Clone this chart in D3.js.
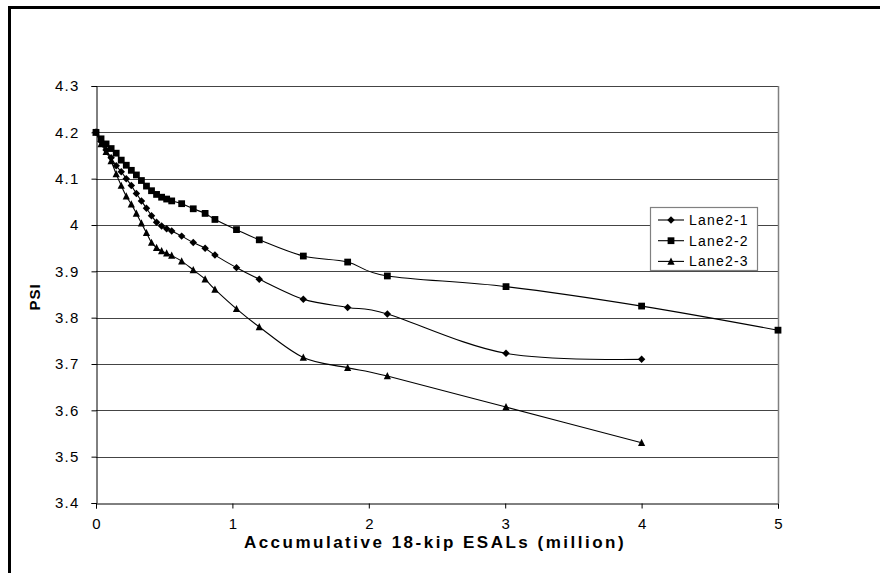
<!DOCTYPE html>
<html>
<head>
<meta charset="utf-8">
<script src="https://cdn.jsdelivr.net/npm/d3@7"></script>
<style>
  html, body { margin: 0; padding: 0; background: #fff; }
  svg { display: block; }
  text { font-family: "Liberation Sans", Arial, sans-serif; fill: #000; }
</style>
</head>
<body>
<svg id="chart" width="880" height="573"></svg>
<script>
// Cumulative traffic (million 18-kip ESALs) at each survey
const esals = [0, 0.037, 0.074, 0.111, 0.148, 0.185, 0.222, 0.259, 0.296, 0.333,
  0.37, 0.407, 0.444, 0.481, 0.518, 0.555, 0.628, 0.713, 0.8, 0.872,
  1.03, 1.197, 1.52, 1.845, 2.136, 3.006, 4.0, 5.0];

// PSI per lane
const lane2_1 = [4.2, 4.18, 4.162, 4.145, 4.128, 4.115, 4.1, 4.085, 4.068, 4.052,
  4.036, 4.02, 4.006, 3.998, 3.992, 3.987, 3.976, 3.962, 3.95, 3.935,
  3.908, 3.883, 3.84, 3.822, 3.808, 3.723, 3.71];
const lane2_2 = [4.2, 4.186, 4.175, 4.165, 4.155, 4.14, 4.129, 4.118, 4.108, 4.096,
  4.084, 4.074, 4.066, 4.06, 4.056, 4.052, 4.046, 4.035, 4.025, 4.012,
  3.99, 3.968, 3.933, 3.92, 3.89, 3.867, 3.825, 3.773];
const lane2_3 = [4.2, 4.175, 4.158, 4.138, 4.11, 4.085, 4.062, 4.045, 4.025, 4.004,
  3.983, 3.962, 3.951, 3.944, 3.939, 3.934, 3.922, 3.903, 3.883, 3.861,
  3.819, 3.78, 3.714, 3.692, 3.674, 3.607, 3.53];

const seriesNames = ["Lane2-1", "Lane2-2", "Lane2-3"];
const seriesValues = [lane2_1, lane2_2, lane2_3];
const markerKinds = ["diamond", "square", "triangle"];

const xTicks = [0, 1, 2, 3, 4, 5];
const yTicks = [3.4, 3.5, 3.6, 3.7, 3.8, 3.9, 4.0, 4.1, 4.2, 4.3];
const yTickLabels = ["3.4", "3.5", "3.6", "3.7", "3.8", "3.9", "4", "4.1", "4.2", "4.3"];

const xTitle = "Accumulative 18-kip ESALs (million)";
const yTitle = "PSI";

const svg = d3.select("#chart");

// outer chart frame
svg.append("rect")
  .attr("x", 9.5).attr("y", 7.5)
  .attr("width", 1000).attr("height", 1000)
  .attr("fill", "none").attr("stroke", "#000").attr("stroke-width", 3);

const plot = { left: 96, right: 778, top: 86, bottom: 503 };
const x = d3.scaleLinear().domain([0, 5]).range([plot.left, plot.right]);
const y = d3.scaleLinear().domain([3.4, 4.3]).range([plot.bottom, plot.top]);

// horizontal gridlines
svg.append("g").selectAll("line")
  .data(yTicks.filter(v => v > 3.4))
  .join("line")
  .attr("x1", plot.left).attr("x2", plot.right)
  .attr("y1", d => Math.round(y(d)) + 0.5).attr("y2", d => Math.round(y(d)) + 0.5)
  .attr("stroke", "#444").attr("stroke-width", 1);

// right border of plot area
svg.append("line")
  .attr("x1", plot.right + 0.5).attr("x2", plot.right + 0.5)
  .attr("y1", plot.top).attr("y2", plot.bottom)
  .attr("stroke", "#808080").attr("stroke-width", 1.5);

// axes
const yAxis = d3.axisLeft(y).tickValues(yTicks)
  .tickFormat((d, i) => yTickLabels[i]).tickSize(5).tickPadding(12);
const gy = svg.append("g").attr("transform", `translate(${plot.left + 0.5},0)`).call(yAxis);
gy.select(".domain").attr("stroke", "#000");
gy.selectAll(".tick line").attr("stroke", "#000");
gy.selectAll(".tick text")
  .style("font-family", '"Liberation Sans", Arial, sans-serif')
  .style("font-size", "15px").style("letter-spacing", "1.2px").attr("fill", "#000");

const xAxis = d3.axisBottom(x).tickValues(xTicks).tickFormat(d3.format("d"))
  .tickSize(5).tickPadding(10);
const gx = svg.append("g").attr("transform", `translate(0,${plot.bottom + 0.5})`).call(xAxis);
gx.select(".domain").attr("stroke", "#000");
gx.selectAll(".tick line").attr("stroke", "#000");
gx.selectAll(".tick text")
  .style("font-family", '"Liberation Sans", Arial, sans-serif')
  .style("font-size", "15px").attr("fill", "#000");

// axis titles
svg.append("text")
  .attr("x", 435).attr("y", 548)
  .attr("text-anchor", "middle")
  .style("font-size", "17px").style("font-weight", "bold").style("letter-spacing", "2.5px")
  .text(xTitle);

svg.append("text")
  .attr("transform", "translate(40,297) rotate(-90)")
  .attr("text-anchor", "middle")
  .style("font-size", "15px").style("font-weight", "bold").style("letter-spacing", "1px")
  .text(yTitle);

// marker shapes
const markerTypes = {
  diamond: { draw(ctx, size) { const r = Math.sqrt(size / 2);
    ctx.moveTo(0, -r); ctx.lineTo(r, 0); ctx.lineTo(0, r); ctx.lineTo(-r, 0); ctx.closePath(); } },
  square: { draw(ctx, size) { const h = Math.sqrt(size) / 2;
    ctx.rect(-h, -h, 2 * h, 2 * h); } },
  triangle: { draw(ctx, size) { const h = Math.sqrt(size) / 2;
    ctx.moveTo(0, -h * 1.1); ctx.lineTo(h, h * 0.9); ctx.lineTo(-h, h * 0.9); ctx.closePath(); } }
};
const markerSize = { diamond: 28, square: 46, triangle: 52 };

const line = d3.line()
  .x(d => x(d[0])).y(d => y(d[1]))
  .curve(d3.curveCardinal.tension(0));

seriesValues.forEach((vals, i) => {
  const pts = vals.map((v, j) => [esals[j], v]);
  const g = svg.append("g");
  g.append("path").datum(pts)
    .attr("d", line).attr("fill", "none").attr("stroke", "#000").attr("stroke-width", 1.1);
  const sym = d3.symbol().type(markerTypes[markerKinds[i]]).size(markerSize[markerKinds[i]]);
  g.selectAll("path.m").data(pts).join("path")
    .attr("class", "m")
    .attr("transform", d => `translate(${x(d[0])},${y(d[1])})`)
    .attr("d", sym).attr("fill", "#000");
});

// legend
const lg = svg.append("g");
lg.append("rect")
  .attr("x", 650.5).attr("y", 207.5).attr("width", 107).attr("height", 63)
  .attr("fill", "#fff").attr("stroke", "#808080").attr("stroke-width", 1.2);
seriesNames.forEach((name, i) => {
  const cy = 220 + i * 20.7;
  lg.append("line").attr("x1", 658).attr("x2", 684).attr("y1", cy).attr("y2", cy)
    .attr("stroke", "#000").attr("stroke-width", 1.1);
  lg.append("path")
    .attr("transform", `translate(671,${cy})`)
    .attr("d", d3.symbol().type(markerTypes[markerKinds[i]]).size(markerSize[markerKinds[i]])())
    .attr("fill", "#000");
  lg.append("text").attr("x", 689).attr("y", cy + 5)
    .style("font-size", "14px").style("letter-spacing", "1.2px")
    .text(name);
});
</script>
</body>
</html>
